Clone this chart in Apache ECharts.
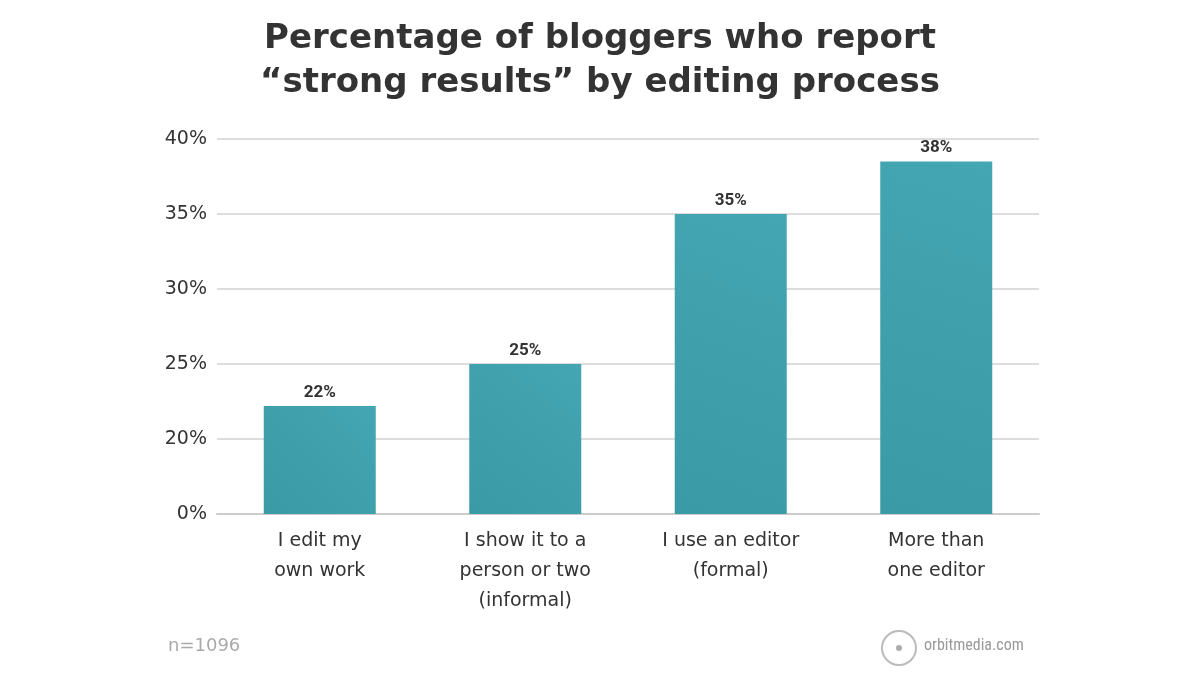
<!DOCTYPE html>
<html>
<head>
<meta charset="utf-8">
<script src="https://cdn.jsdelivr.net/npm/echarts@6/dist/echarts.min.js"></script>
<style>body{margin:0;background:#fff}#chart{width:1200px;height:676px}</style>
</head>
<body>
<div id="chart"></div>
<script>
// categories and values
var categories = ['I edit my\nown work', 'I show it to a\nperson or two\n(informal)', 'I use an editor\n(formal)', 'More than\none editor'];
var values = [22.2, 25, 35, 38.5];
var valueLabels = ['22%', '25%', '35%', '38%'];
// axis is broken: the bottom tick (15) is shown as 0%
var tickMin = 15, tickMax = 40, tickStep = 5;

var chart = echarts.init(document.getElementById('chart'));
var option = {
    title: {
        text: 'Percentage of bloggers who report\n\u201cstrong results\u201d by editing process',
        left: 'center',
        top: 12,
        textStyle: {
            color: '#333',
            fontSize: 34,
            fontWeight: 'bold',
            fontFamily: 'DejaVu Sans',
            lineHeight: 44
        }
    },
    grid: { left: 217, right: 161, top: 139, bottom: 162 },
    xAxis: {
        type: 'category',
        data: categories,
        axisLine: { lineStyle: { color: '#ccc', width: 2 } },
        axisTick: { show: false },
        axisLabel: { color: '#333', fontSize: 19, fontFamily: 'DejaVu Sans', lineHeight: 30, margin: 12 }
    },
    yAxis: {
        type: 'value',
        min: tickMin, max: tickMax, interval: tickStep,
        axisLine: { show: false },
        axisTick: { show: false },
        splitLine: { lineStyle: { color: '#ddd', width: 2 } },
        axisLabel: {
            color: '#333', fontSize: 19, fontFamily: 'DejaVu Sans', margin: 10,
            formatter: function (v) { return v === tickMin ? '0%' : v + '%'; }
        }
    },
    series: [{
        type: 'bar',
        data: values,
        barWidth: 112,
        itemStyle: {
            color: new echarts.graphic.LinearGradient(1, 0, 0, 1, [
                { offset: 0, color: '#44a6b2' },
                { offset: 1, color: '#3a9aa6' }
            ])
        },
        label: {
            show: true,
            position: 'top',
            color: '#333',
            fontSize: 17,
            fontWeight: 'bold',
            fontFamily: 'Roboto',
            formatter: function (p) { return valueLabels[p.dataIndex]; }
        }
    }],
    graphic: [
        { type: 'text', left: 168, top: 637, style: { text: 'n=1096', fill: '#aaa', fontSize: 18, fontFamily: 'DejaVu Sans' } },
        { type: 'circle', shape: { cx: 899, cy: 648, r: 17 }, style: { fill: 'none', stroke: '#bbb', lineWidth: 2 } },
        { type: 'circle', shape: { cx: 899, cy: 648, r: 3 }, style: { fill: '#aaa' } },
        { type: 'text', left: 924, top: 638, style: { text: 'orbitmedia.com', fill: '#999', fontSize: 16, fontFamily: 'Roboto Condensed, Roboto' } }
    ]
};
chart.setOption(option);
</script>
</body>
</html>
